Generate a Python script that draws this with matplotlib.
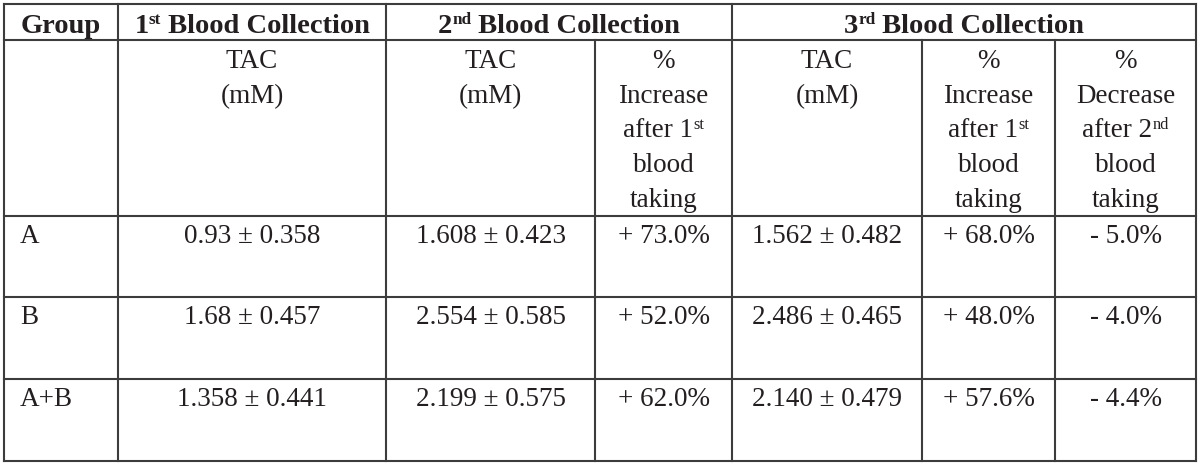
import re
import matplotlib
matplotlib.use("Agg")
import matplotlib.pyplot as plt

# ---------------- data ----------------
groups = ["A", "B", "A+B"]
tac1_mean = ["0.93", "1.68", "1.358"]
tac1_sd = ["0.358", "0.457", "0.441"]
tac2_mean = ["1.608", "2.554", "2.199"]
tac2_sd = ["0.423", "0.585", "0.575"]
inc2_pct = [73.0, 52.0, 62.0]
tac3_mean = ["1.562", "2.486", "2.140"]
tac3_sd = ["0.482", "0.465", "0.479"]
inc3_pct = [68.0, 48.0, 57.6]
dec3_pct = [5.0, 4.0, 4.4]

top_headers = ["Group",
               "1^{st} Blood Collection",
               "2^{nd} Blood Collection",
               "3^{rd} Blood Collection"]
sub_headers = [
    ["TAC", "(mM)"],
    ["TAC", "(mM)"],
    ["%", "Increase", "after 1^{st}", "blood", "taking"],
    ["TAC", "(mM)"],
    ["%", "Increase", "after 1^{st}", "blood", "taking"],
    ["%", "Decrease", "after 2^{nd}", "blood", "taking"],
]

# ---------------- style ----------------
plt.rcParams["font.family"] = ["Liberation Serif", "DejaVu Serif"]

TXT = "#231f20"
LINE = "#3c3c3c"
LW = 1.5
BODY = 19.5
HEAD = 20.5

fig = plt.figure(figsize=(12, 4.66), dpi=100)
ax = fig.add_axes([0, 0, 1, 1])
ax.set_xlim(0, 1200)
ax.set_ylim(466, 0)
ax.axis("off")
renderer = fig.canvas.get_renderer()


def text_width(s, size, weight):
    t1 = ax.text(0, 0, "x" + s + "x", fontsize=size, fontweight=weight)
    t2 = ax.text(0, 0, "xx", fontsize=size, fontweight=weight)
    w = t1.get_window_extent(renderer).width - t2.get_window_extent(renderer).width
    t1.remove()
    t2.remove()
    return w


def rich_text(cx, base, s, size, weight="normal", ha="center"):
    pieces = []
    pos = 0
    for m in re.finditer(r"\^\{([^}]*)\}", s):
        if m.start() > pos:
            pieces.append((s[pos:m.start()], False))
        pieces.append((m.group(1), True))
        pos = m.end()
    if pos < len(s):
        pieces.append((s[pos:], False))
    sup_size = size * 0.6
    widths = [text_width(p, sup_size if sup else size, weight) for p, sup in pieces]
    total = sum(widths)
    x = cx - total / 2 if ha == "center" else cx
    px_per_pt = 100 / 72
    for (p, sup), w in zip(pieces, widths):
        if sup:
            ax.text(x, base - size * px_per_pt * 0.30, p, ha="left", va="baseline",
                    fontsize=sup_size, fontweight=weight, color=TXT)
        else:
            ax.text(x, base, p, ha="left", va="baseline", fontsize=size,
                    fontweight=weight, color=TXT)
        x += w


# column / row boundaries (pixel layout)
xs = [4, 118, 386, 595, 732, 922, 1055, 1196]
y_top, y_h1, y_h2 = 4, 40, 216
row_edges = [216, 297, 379, 461]
y_bot = row_edges[-1]

# ---------------- grid ----------------
for y in [y_top, y_h1, y_h2] + row_edges[1:]:
    ax.plot([xs[0], xs[-1]], [y, y], color=LINE, lw=LW, solid_capstyle="projecting")
for x in [xs[0], xs[1], xs[2], xs[4], xs[-1]]:
    ax.plot([x, x], [y_top, y_bot], color=LINE, lw=LW, solid_capstyle="projecting")
for x in [xs[3], xs[5], xs[6]]:
    ax.plot([x, x], [y_h1, y_bot], color=LINE, lw=LW, solid_capstyle="projecting")

# ---------------- header row 1 ----------------
spans = [(xs[0], xs[1]), (xs[1], xs[2]), (xs[2], xs[4]), (xs[4], xs[7])]
for (a, b), t in zip(spans, top_headers):
    rich_text((a + b) / 2, 33, t, HEAD, weight="bold")

# ---------------- header row 2 ----------------
first_base, step = 68, 34.7
for ci, lines in enumerate(sub_headers):
    cx = (xs[ci + 1] + xs[ci + 2]) / 2
    for li, t in enumerate(lines):
        rich_text(cx, first_base + li * step, t, BODY)

# ---------------- data rows ----------------
for ri, g in enumerate(groups):
    base = row_edges[ri] + 27
    cells = [
        f"{tac1_mean[ri]} ± {tac1_sd[ri]}",
        f"{tac2_mean[ri]} ± {tac2_sd[ri]}",
        f"+ {inc2_pct[ri]:.1f}%",
        f"{tac3_mean[ri]} ± {tac3_sd[ri]}",
        f"+ {inc3_pct[ri]:.1f}%",
        f"- {dec3_pct[ri]:.1f}%",
    ]
    ax.text(20, base, g, ha="left", va="baseline", fontsize=BODY, color=TXT)
    for ci, t in enumerate(cells):
        cx = (xs[ci + 1] + xs[ci + 2]) / 2
        ax.text(cx, base, t, ha="center", va="baseline", fontsize=BODY, color=TXT)

fig.savefig("out.png", dpi=100, facecolor="white")
